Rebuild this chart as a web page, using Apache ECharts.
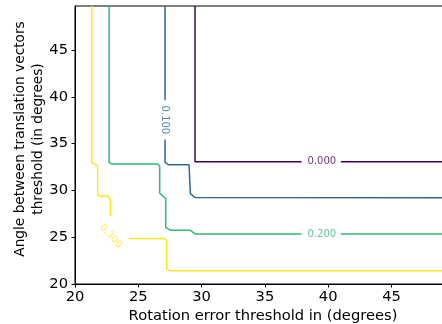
<!DOCTYPE html>
<html>
<head>
<meta charset="utf-8">
<script src="https://cdn.jsdelivr.net/npm/echarts@6/dist/echarts.min.js"></script>
<style>html,body{margin:0;padding:0;background:#fff}#c{width:442px;height:324px}</style>
</head>
<body>
<div id="c"></div>
<script>
// ---- data (in data units) ----
const xTicks = [20, 25, 30, 35, 40, 45];
const yTicks = [20, 25, 30, 35, 40, 45];
const levelLabels = ['0.000', '0.100', '0.200', '0.300'];
const levelColors = ['#440154', '#31688e', '#35b779', '#fde725'];

// contour segments per level (gaps leave room for inline labels)
const level0 = [
  [[29.48, 49.7], [29.48, 33.06], [37.9, 33.06]],
  [[41.0, 33.06], [49.7, 33.06]]
];
const level1 = [
  [[27.11, 49.7], [27.11, 39.62]],
  [[27.11, 35.44], [27.11, 33.02], [27.37, 32.74], [29.01, 32.74], [29.11, 32.53],
   [29.11, 29.66], [29.48, 29.24], [49.7, 29.22]]
];
const level2 = [
  [[22.69, 49.7], [22.69, 33.02], [22.9, 32.81], [26.53, 32.81], [26.69, 32.59],
   [26.69, 29.69], [27.17, 29.12], [27.17, 26.04], [27.51, 25.75], [29.09, 25.75],
   [29.48, 25.35], [37.9, 25.35]],
  [[41.0, 25.35], [49.7, 25.35]]
];
const level3 = [
  [[21.32, 49.7], [21.32, 33.02], [21.79, 32.59], [21.79, 29.58], [21.98, 29.4],
   [22.58, 29.4], [22.79, 29.05], [22.79, 27.27]],
  [[24.29, 24.86], [27.06, 24.86], [27.25, 24.61], [27.25, 21.6], [27.51, 21.42], [49.7, 21.42]]
];
// inline label anchors [x, y] and rotation (degrees)
const labelPos = [[39.5, 33.06], [27.11, 37.53], [39.5, 25.35], [22.84, 25.11]];
const labelRot = [0, -90, 0, -48];

const xName = 'Rotation error threshold in (degrees)';
const yName = 'Angle between translation vectors\nthreshold (in degrees)';

// ---- chart ----
const levels = [level0, level1, level2, level3];
const series = [];
levels.forEach((segs, i) => {
  segs.forEach(seg => {
    series.push({
      type: 'line', data: seg, showSymbol: false, symbol: 'none', silent: true,
      lineStyle: { color: levelColors[i], width: 1.5 }, z: 3
    });
  });
  series.push({
    type: 'scatter', data: [labelPos[i]], symbolSize: 0, silent: true, z: 4,
    label: {
      show: true, position: 'inside', formatter: levelLabels[i], rotate: labelRot[i],
      color: levelColors[i], fontSize: 10, fontFamily: 'DejaVu Sans',
      align: 'center', verticalAlign: 'middle'
    }
  });
});

const font = 'DejaVu Sans';
const fs = 14.7;
const chart = echarts.init(document.getElementById('c'), null, { renderer: 'canvas' });
chart.setOption({
  animation: false,
  backgroundColor: '#fff',
  grid: { left: 75, right: -9, top: 6, bottom: 40, show: true, borderColor: '#000', borderWidth: 1,
          containLabel: false, outerBoundsMode: 'none' },
  xAxis: {
    type: 'value', min: 20, max: 49.7, interval: 5,
    name: xName, nameLocation: 'middle', nameGap: 25, nameMoveOverlap: false,
    nameTextStyle: { color: '#000', fontSize: fs, fontFamily: font },
    axisLine: { show: true, lineStyle: { color: '#000', width: 1 } },
    axisTick: { show: true, inside: false, length: 3.5, lineStyle: { color: '#000' }, customValues: xTicks },
    axisLabel: { color: '#000', fontSize: fs, fontFamily: font, margin: 6, customValues: xTicks },
    splitLine: { show: false }
  },
  yAxis: {
    type: 'value', min: 20, max: 49.7, interval: 5,
    name: yName, nameLocation: 'middle', nameGap: 28, nameRotate: 90, nameMoveOverlap: false,
    nameTextStyle: { color: '#000', fontSize: 13.7, fontFamily: font, lineHeight: 18, align: 'center', padding: [0, 0, 0, 12] },
    axisLine: { show: true, lineStyle: { color: '#000', width: 1 } },
    axisTick: { show: true, inside: false, length: 3.5, lineStyle: { color: '#000' }, customValues: yTicks },
    axisLabel: { color: '#000', fontSize: fs, fontFamily: font, margin: 7, customValues: yTicks },
    splitLine: { show: false }
  },
  series: series
});
</script>
</body>
</html>
